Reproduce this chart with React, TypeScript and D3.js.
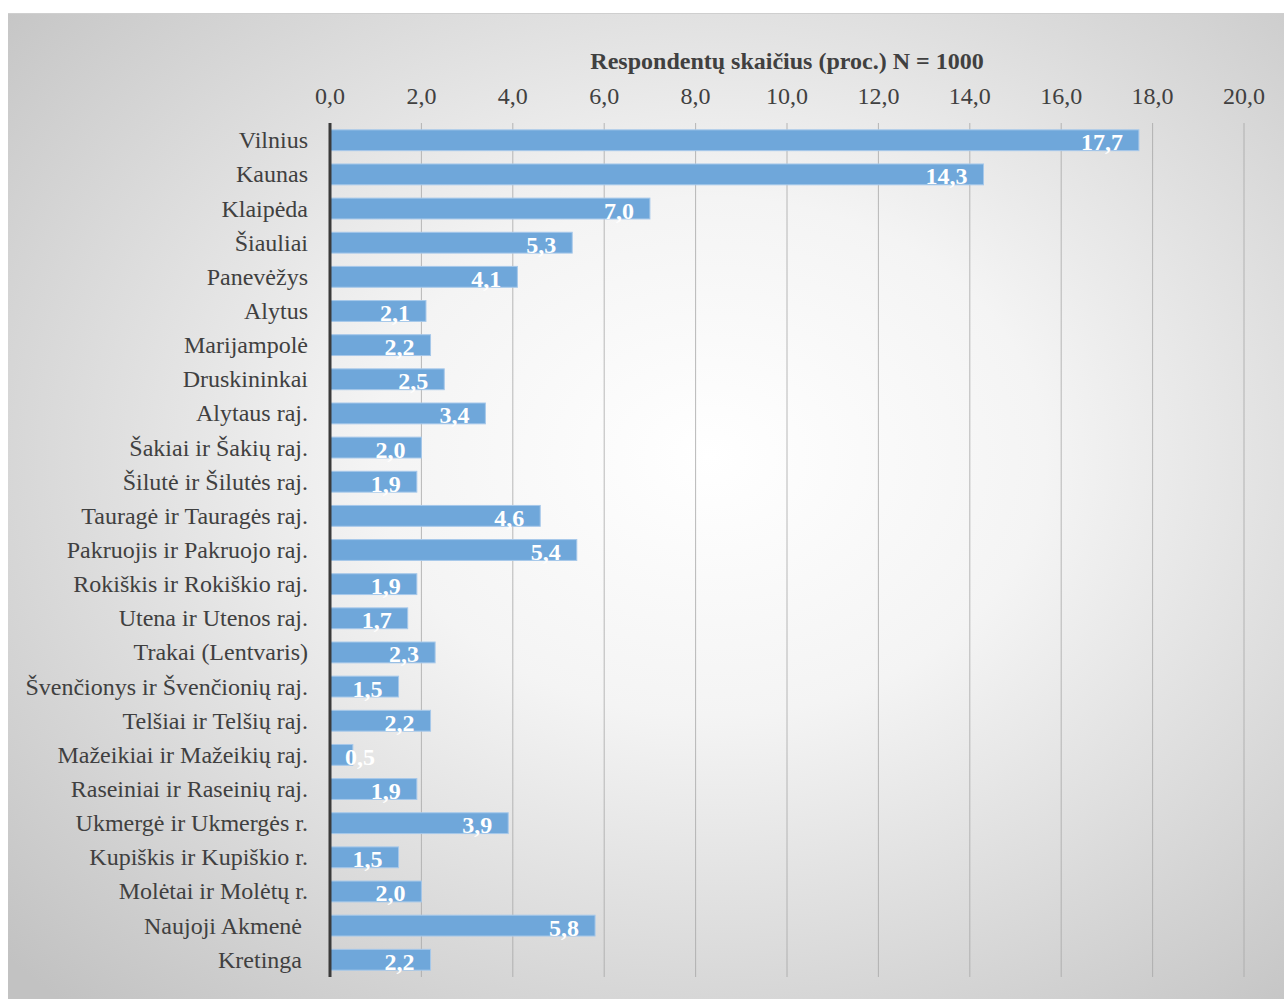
import React from "react";
import * as d3 from "d3";

const categories = [
  "Vilnius", "Kaunas", "Klaipėda", "Šiauliai", "Panevėžys", "Alytus", "Marijampolė",
  "Druskininkai", "Alytaus raj.", "Šakiai ir Šakių raj.", "Šilutė ir Šilutės raj.",
  "Tauragė ir Tauragės raj.", "Pakruojis ir Pakruojo raj.", "Rokiškis ir Rokiškio raj.",
  "Utena ir Utenos raj.", "Trakai (Lentvaris)", "Švenčionys ir Švenčionių raj.",
  "Telšiai ir Telšių raj.", "Mažeikiai ir Mažeikių raj.", "Raseiniai ir Raseinių raj.",
  "Ukmergė ir Ukmergės r.", "Kupiškis ir Kupiškio r.", "Molėtai ir Molėtų r.",
  "Naujoji Akmenė ", "Kretinga ",
];
const values = [17.7, 14.3, 7.0, 5.3, 4.1, 2.1, 2.2, 2.5, 3.4, 2.0, 1.9, 4.6, 5.4, 1.9, 1.7, 2.3, 1.5, 2.2, 0.5, 1.9, 3.9, 1.5, 2.0, 5.8, 2.2];
const ticks = [0, 2, 4, 6, 8, 10, 12, 14, 16, 18, 20];
const title = "Respondentų skaičius (proc.) N = 1000";

const W = 1284, H = 999;
const fmt = (v: number) => v.toFixed(1).replace(".", ",");
const FONT = "Liberation Serif, Times New Roman, serif";

export default function App() {
  const x = d3.scaleLinear().domain([0, 20]).range([330, 1244]);
  const y = d3.scaleBand<string>().domain(categories).range([123, 977]).paddingInner(0.39).paddingOuter(0.2);
  const bw = y.bandwidth();
  return (
    <svg width={W} height={H} style={{ position: "absolute", left: 0, top: 0, fontFamily: FONT }}>
      <defs>
        <radialGradient id="bg" cx="0.55" cy="0.45" r="0.75">
          <stop offset="0" stopColor="#ffffff" />
          <stop offset="0.35" stopColor="#f4f4f4" />
          <stop offset="1" stopColor="#c2c2c2" />
        </radialGradient>
      </defs>
      <rect x={0} y={0} width={W} height={H} fill="#ffffff" />
      <rect x={8} y={13} width={W - 8} height={H - 13} fill="url(#bg)" />
      <line x1={8} x2={W} y1={13.5} y2={13.5} stroke="#cfcfcf" />
      {ticks.slice(1).map((t) => (
        <line key={t} x1={x(t)} x2={x(t)} y1={123} y2={977} stroke="#a8a8a8" strokeWidth={1} opacity={0.8} />
      ))}
      {ticks.map((t) => (
        <text key={t} x={x(t)} y={96} textAnchor="middle" dominantBaseline="central" fontSize={24} fill="#404040">
          {fmt(t)}
        </text>
      ))}
      <text x={(x(0) + x(20)) / 2} y={61} textAnchor="middle" dominantBaseline="central" fontSize={24} fontWeight="bold" fill="#404040">
        {title}
      </text>
      {categories.map((c, i) => {
        const yy = y(c)!;
        const v = values[i];
        const end = x(v);
        const labelEnd = end - 16;
        const approxW = 32;
        const useStart = labelEnd - approxW < x(0) + 14;
        return (
          <g key={c}>
            <rect x={x(0)} y={yy} width={end - x(0)} height={bw} fill="#6fa7da" stroke="#a6c8ea" strokeWidth={1} />
            <text x={308} y={yy + bw / 2} textAnchor="end" dominantBaseline="central" fontSize={24} fill="#404040" style={{ whiteSpace: "pre" }}>
              {c}
            </text>
            <text x={useStart ? x(0) + 15 : labelEnd} y={yy + bw / 2 + 2} textAnchor={useStart ? "start" : "end"} dominantBaseline="central" fontSize={24} fontWeight="bold" fill="#ffffff">
              {fmt(v)}
            </text>
          </g>
        );
      })}
      <line x1={x(0)} x2={x(0)} y1={123} y2={977} stroke="#3a3a3a" strokeWidth={3} />
    </svg>
  );
}
